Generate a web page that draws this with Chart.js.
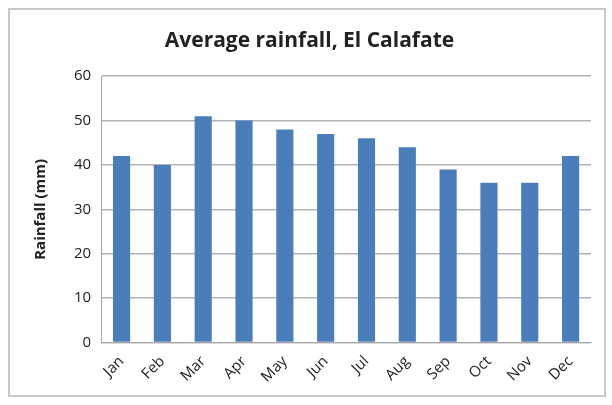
<!DOCTYPE html>
<html>
<head>
<meta charset="utf-8">
<script src="https://cdn.jsdelivr.net/npm/chart.js@4"></script>
<style>
  body { margin: 0; background: #fff; }
  #wrap { width: 612px; height: 405px; }
</style>
</head>
<body>
<div id="wrap"><canvas id="chart" width="612" height="405"></canvas></div>
<script>
const months = ["Jan", "Feb", "Mar", "Apr", "May", "Jun", "Jul", "Aug", "Sep", "Oct", "Nov", "Dec"];
const rainfall = [42, 40, 51, 50, 48, 47, 46, 44, 39, 36, 36, 42];
const yTicks = [0, 10, 20, 30, 40, 50, 60];

// light grey frame round the whole chart, like the Excel chart area
const frame = {
  id: "frame",
  beforeDraw(chart) {
    const c = chart.ctx;
    c.save();
    c.fillStyle = "#fff";
    c.fillRect(0, 0, chart.width, chart.height);
    c.strokeStyle = "#c8c8c8";
    c.lineWidth = 2;
    c.strokeRect(9, 9, chart.width - 16, chart.height - 18);
    c.restore();
  }
};

new Chart(document.getElementById("chart"), {
  type: "bar",
  data: {
    labels: months,
    datasets: [{
      data: rainfall,
      backgroundColor: "#4a7ebb",
      barPercentage: 0.42,
      categoryPercentage: 1
    }]
  },
  plugins: [frame],
  options: {
    responsive: false,
    animation: false,
    layout: { padding: { left: 28, right: 21, top: 18, bottom: 17 } },
    plugins: {
      legend: { display: false },
      tooltip: { enabled: false },
      title: {
        display: true,
        text: "Average rainfall, El Calafate",
        color: "#222",
        font: { family: "Open Sans", size: 21, weight: "bold" },
        padding: { top: 10, bottom: 23 }
      }
    },
    scales: {
      x: {
        grid: { display: false },
        border: { color: "#a8a8a8", width: 1 },
        ticks: {
          color: "#222",
          font: { family: "Open Sans", size: 15 },
          minRotation: 45,
          maxRotation: 45,
          padding: 2
        }
      },
      y: {
        min: 0,
        max: 60,
        afterBuildTicks(axis) { axis.ticks = yTicks.map(v => ({ value: v })); },
        grid: { color: "#b4b4b4", lineWidth: 1.5, drawTicks: false },
        border: { color: "#a8a8a8", width: 1 },
        ticks: {
          color: "#222",
          font: { family: "Open Sans", size: 15 },
          padding: 10
        },
        title: {
          display: true,
          text: "Rainfall (mm)",
          color: "#222",
          font: { family: "Open Sans", size: 15, weight: "bold" },
          padding: { bottom: 14 }
        }
      }
    }
  }
});
</script>
</body>
</html>
